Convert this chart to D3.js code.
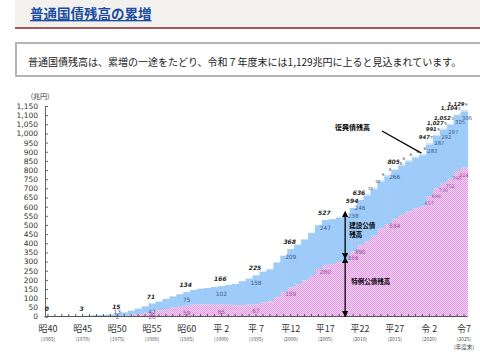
<!DOCTYPE html>
<html><head><meta charset="utf-8">
<script src="https://cdn.jsdelivr.net/npm/d3@7"></script>
<style>body{margin:0;background:#fff}svg{display:block}</style>
</head><body>
<div id="chart"></div>
<script>
// ---- data (兆円, fiscal year end) ----
const years = d3.range(1965, 2026);
const deficitBonds = [0.2,0.2,0.2,0.2,0.1,0.1,0,0,0,0,
  2,4,9,14,20,28.4,34,41,48,53,
  59,64,66,66,64,64.6,64,62,61,65,
  67,76,83,105,133,159,174,197,221,259,
  280,287,298,305,356,390,409,441,480,505,
  534,555,573,591,603,657,699,730,752,795,814];
const constructionBonds = [0,0.7,1.4,2.2,2.7,3.2,4.6,6.9,8.8,10.6,
  13,18,23,29,36,42.4,48,55,62,69,
  75,81,86,90,97,101.6,108,116,132,142,
  158,169,175,190,199,209,218,224,236,240,
  247,245,243,241,238,246,250,254,255,261,
  266,270,274,277,278,283,287,292,297,305,306];
const reconstructionBonds = [0,0,0,0,0,0,0,0,0,0,
  0,0,0,0,0,0,0,0,0,0,
  0,0,0,0,0,0,0,0,0,0,
  0,0,0,0,0,0,0,0,0,0,
  0,0,0,0,0,0,11,10,9,8,
  5,6,6,6,6,7,5,5,3,4,9];
const totalLabelYears = [1965,1970,1975,1980,1985,1990,1995,2000,2005,2009,2010,2015,2020,2021,2022,2023,2024,2025];
const seriesLabelYears = [1975,1980,1985,1990,1995,2000,2005,2009,2010,2015,2020,2021,2022,2023,2024,2025];
const reconLabelYears = d3.range(2011, 2026);
const tickYears = [1965,1970,1975,1980,1985,1990,1995,2000,2005,2010,2015,2020,2025];
const tickEras = ["昭40","昭45","昭50","昭55","昭60","平 2","平 7","平12","平17","平22","平27","令 2","令7"];
const yTicks = d3.range(0, 1151, 50);

const W = 480, H = 355;
const svg = d3.select("#chart").append("svg").attr("width", W).attr("height", H)
  .style("font-family", "'Noto Sans CJK JP', sans-serif");

// header
svg.append("rect").attr("x",15).attr("y",0).attr("width",465).attr("height",27).attr("fill","#f3f1ee");
svg.append("line").attr("x1",15).attr("x2",480).attr("y1",28).attr("y2",28).attr("stroke","#a45a5c").attr("stroke-width",2);
svg.append("text").attr("x",30).attr("y",19).attr("font-size",13.5).attr("font-weight","bold")
  .attr("fill","#1c4ea0").attr("text-decoration","underline").text("普通国債残高の累増");
svg.append("rect").attr("x",16).attr("y",43).attr("width",472).attr("height",33)
  .attr("fill","#fff").attr("stroke","#b4b4b4").attr("stroke-width",2);
svg.append("text").attr("x",28).attr("y",65.5).attr("font-size",10).attr("fill","#222")
  .text("普通国債残高は、累増の一途をたどり、令和７年度末には1,129兆円に上ると見込まれています。");

// pattern
const defs = svg.append("defs");
const pat = defs.append("pattern").attr("id","pk").attr("width",2).attr("height",2).attr("patternUnits","userSpaceOnUse");
pat.append("rect").attr("width",2).attr("height",2).attr("fill","#fbe2fb");
pat.append("rect").attr("width",1).attr("height",1).attr("fill","#ea8aea");
pat.append("rect").attr("x",1).attr("y",1).attr("width",1).attr("height",1).attr("fill","#ea8aea");
["s","e"].forEach((id,i)=>{
  const m = defs.append("marker").attr("id","ar"+id).attr("viewBox","0 0 10 10").attr("refX",i?9:1).attr("refY",5)
    .attr("markerWidth",5).attr("markerHeight",5).attr("orient","auto-start-reverse")
  m.append("path").attr("d","M0,0L10,5L0,10z").attr("fill","#000");
});

// scales
const x = d3.scaleBand().domain(years).range([44.5, 467.5]).padding(0);
const y = d3.scaleLinear().domain([0, 1150]).range([316.5, 106]);
const bw = x.bandwidth();
const cx = yr => x(yr) + bw/2;

const rows = years.map((yr,i)=>({year:yr, deficit:deficitBonds[i], construction:constructionBonds[i], recon:reconstructionBonds[i]}));
const total = r => r.deficit + r.construction + r.recon;
const byYear = new Map(rows.map(r=>[r.year,r]));
const stack = d3.stack().keys(["deficit","construction","recon"])(rows);
const fills = {deficit:"url(#pk)", construction:"#9fcbf8", recon:"#c9e0fb"};

const g = svg.append("g");
stack.forEach(layer=>{
  g.selectAll(null).data(layer).enter().append("rect")
    .attr("x", d=>x(d.data.year)).attr("width", bw+0.6)
    .attr("y", d=>y(d[1])).attr("height", d=>Math.max(0, y(d[0])-y(d[1])))
    .attr("fill", fills[layer.key]);
});

// axes
const yAxis = d3.axisLeft(y).tickValues(yTicks).tickSize(-3).tickPadding(6).tickFormat(d3.format(","));
const ya = svg.append("g").attr("transform","translate(45,0)").call(yAxis);
ya.select(".domain").attr("stroke","#666");
ya.selectAll(".tick line").attr("stroke","#666");
ya.selectAll("text").attr("font-size",7.5).attr("fill","#333").attr("font-family","'DejaVu Sans', sans-serif").attr("x",-7);
svg.append("text").attr("x",40).attr("y",99).attr("text-anchor","middle").attr("font-size",7).attr("fill","#333").text("(兆円)");

const xa = svg.append("g").attr("transform","translate(0,316.5)")
  .call(d3.axisBottom(x).tickValues(years).tickSize(-2.5).tickFormat(""));
xa.select(".domain").attr("stroke","#555").attr("d","M44.5,0H467.5");
xa.selectAll(".tick line").attr("stroke","#555");
tickYears.forEach((yr,i)=>{
  svg.append("text").attr("x",cx(yr)).attr("y",332).attr("text-anchor","middle").attr("font-size",9).attr("fill","#333").text(tickEras[i]);
  svg.append("text").attr("x",cx(yr)).attr("y",340.5).attr("text-anchor","middle").attr("font-size",5).attr("fill","#555").text("("+yr+")");
});
svg.append("text").attr("x",cx(2025)).attr("y",349).attr("text-anchor","middle").attr("font-size",5.5).attr("fill","#444").text("(年度末)");

// value labels
const fmt = d3.format(",.0f");
totalLabelYears.forEach(yr=>{
  const r = byYear.get(yr);
  const late = yr >= 2020;
  svg.append("text").attr("x",late ? cx(yr)+0.5 : cx(yr)-1).attr("y",y(total(r))-(late?4:5))
    .attr("text-anchor", late ? "end" : "middle")
    .attr("font-size",late?5.3:6).attr("font-weight","bold").attr("font-style","italic").attr("fill","#222")
    .attr("font-family","'DejaVu Sans', sans-serif").text(fmt(total(r)));
});
seriesLabelYears.forEach(yr=>{
  const r = byYear.get(yr);
  const late = yr >= 2020;
  svg.append("text").attr("x",late ? cx(yr)-2 : cx(yr)).attr("y",Math.min(y(total(r))+10, 314))
    .attr("text-anchor",late ? "start" : "middle")
    .attr("font-size",late?5.3:5.8).attr("fill","#3b5c8e").attr("font-family","'DejaVu Sans', sans-serif").text(fmt(r.construction));
  svg.append("text").attr("x",cx(yr)).attr("y",Math.min(y(r.deficit)+9, 319)).attr("text-anchor","middle")
    .attr("font-size",late?4.8:5.8).attr("fill","#8e4a88").attr("font-family","'DejaVu Sans', sans-serif").text(fmt(r.deficit));
});
reconLabelYears.forEach(yr=>{
  const r = byYear.get(yr);
  const afterLabel = totalLabelYears.includes(yr) && yr < 2020;
  svg.append("text").attr("x",cx(yr)+(afterLabel?5:1)).attr("y",y(total(r))-4).attr("text-anchor","start")
    .attr("font-size",4).attr("fill","#444").attr("font-family","'DejaVu Sans', sans-serif").text(fmt(r.recon));
});

// annotations
const ay = byYear.get(2008);
const ax = cx(2008) - 1;
svg.append("line").attr("x1",ax).attr("x2",ax).attr("y1",y(total(ay))).attr("y2",y(ay.deficit)-2)
  .attr("stroke","#000").attr("stroke-width",1.3).attr("marker-start","url(#ars)").attr("marker-end","url(#are)");
svg.append("line").attr("x1",ax).attr("x2",ax).attr("y1",y(ay.deficit)+2).attr("y2",y(0))
  .attr("stroke","#000").attr("stroke-width",1.3).attr("marker-start","url(#ars)").attr("marker-end","url(#are)");
svg.append("text").attr("x",ax+4).attr("y",228).attr("font-size",6.5).attr("font-weight","bold").text("建設公債");
svg.append("text").attr("x",ax+4).attr("y",237).attr("font-size",6.5).attr("font-weight","bold").text("残高");
svg.append("text").attr("x",ax+6).attr("y",284).attr("font-size",6.5).attr("font-weight","bold").text("特例公債残高");
const ry = byYear.get(2019);
svg.append("text").attr("x",335).attr("y",130).attr("font-size",7).attr("font-weight","bold").text("復興債残高");
svg.append("line").attr("x1",382).attr("y1",131).attr("x2",cx(2019)-1).attr("y2",y(total(ry))-1)
  .attr("stroke","#000").attr("stroke-width",1.2);
</script>
</body></html>
